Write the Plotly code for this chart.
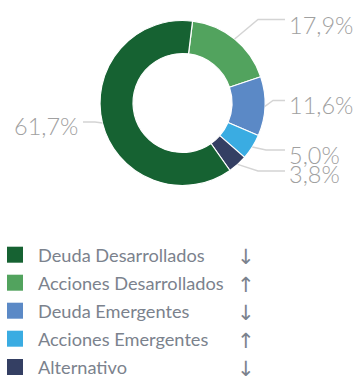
import math
import plotly.graph_objects as go

# Asset classes in legend order
categories = ["Deuda Desarrollados", "Acciones Desarrollados", "Deuda Emergentes",
              "Acciones Emergentes", "Alternativo"]
weights = [61.7, 17.9, 11.6, 5.0, 3.8]
trend = ["↓", "↑", "↓", "↑", "↓"]
colors = ["#166232", "#52a35e", "#5b89c6", "#3aace2", "#343f63"]

# Clockwise order of the slices, starting just right of 12 o'clock
slice_order = [1, 2, 3, 4, 0]
ROTATION = 7

W, H = 354, 377
CX, CY, R = 182.5, 103.0, 82.5


def px(x):
    return x / W


def py(y):
    return 1 - y / H


fig = go.Figure(go.Pie(
    labels=[categories[i] for i in slice_order],
    values=[weights[i] for i in slice_order],
    marker=dict(colors=[colors[i] for i in slice_order], line=dict(color="white", width=1.2)),
    hole=0.6,
    sort=False,
    direction="clockwise",
    rotation=ROTATION,
    textinfo="none",
    hoverinfo="label+percent",
    showlegend=False,
    domain=dict(x=[px(CX - R), px(CX + R)], y=[py(CY + R), py(CY - R)]),
))

# Mid-angle of each slice (degrees clockwise from 12 o'clock)
total = sum(weights)
mid_angle = {}
acc = ROTATION
for i in slice_order:
    span = weights[i] / total * 360
    mid_angle[i] = acc + span / 2
    acc += span

# Label placement: elbow point, line end, text anchor
label_layout = {
    1: dict(elbow=(258, 19.5), end=(285, 19.5), text=(287, 25), anchor="left"),
    2: dict(elbow=(273, 100.5), end=(285, 100.5), text=(287, 105), anchor="left"),
    3: dict(elbow=(266, 150), end=(285, 150), text=(287, 155), anchor="left"),
    4: dict(elbow=(258, 171), end=(285, 171), text=(287, 174), anchor="left"),
    0: dict(elbow=(95, 122), end=(83, 122), text=(80, 126), anchor="right"),
}

shapes = []
annotations = []
for i, lay in label_layout.items():
    a = math.radians(mid_angle[i])
    sx, sy = CX + R * math.sin(a), CY - R * math.cos(a)
    (ex, ey), (tx, ty) = lay["elbow"], lay["end"]
    path = f"M {px(sx)},{py(sy)} L {px(ex)},{py(ey)} L {px(tx)},{py(ty)}"
    shapes.append(dict(type="path", xref="paper", yref="paper", path=path,
                       line=dict(color="#d4d4d4", width=1.4)))
    lx, ly = lay["text"]
    annotations.append(dict(
        x=px(lx), y=py(ly), xref="paper", yref="paper",
        text=f"{weights[i]:.1f}".replace(".", ",") + "%",
        showarrow=False, xanchor=lay["anchor"], yanchor="middle",
        font=dict(family="Lato", size=23.5, color="#a0a0a0", weight=300),
    ))

# Legend rows: colour square, name, trend arrow
row_y = [254.7, 282.7, 310.7, 338.7, 367.0]
for name, col, arrow, y in zip(categories, colors, trend, row_y):
    shapes.append(dict(type="rect", xref="paper", yref="paper",
                       x0=px(7), x1=px(23), y0=py(y + 8), y1=py(y - 8),
                       fillcolor=col, line=dict(width=0)))
    annotations.append(dict(
        x=px(35.5), y=py(y), xref="paper", yref="paper", text=name,
        showarrow=False, xanchor="left", yanchor="middle",
        font=dict(family="Lato", size=18.2, color="#7b828d"),
    ))
    annotations.append(dict(
        x=px(245.5), y=py(y + 2), xref="paper", yref="paper", text=arrow,
        showarrow=False, xanchor="center", yanchor="middle",
        font=dict(family="DejaVu Sans", size=21, color="#7b828d"),
    ))

fig.update_layout(
    width=W, height=H,
    margin=dict(l=0, r=0, t=0, b=0),
    paper_bgcolor="white", plot_bgcolor="white",
    shapes=shapes, annotations=annotations,
)

fig.write_html("out.html")
